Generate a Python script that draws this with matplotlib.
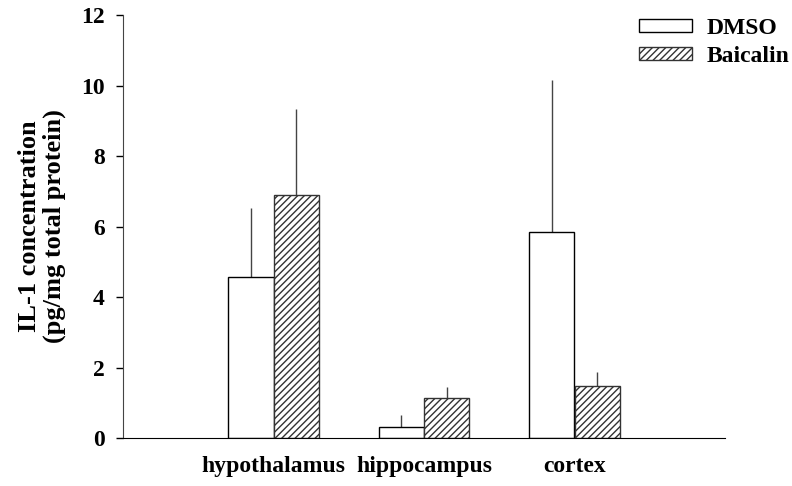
import matplotlib
matplotlib.use("Agg")
import matplotlib.pyplot as plt
import numpy as np

categories = ["hypothalamus", "hippocampus", "cortex"]
dmso_mean = [4.58, 0.32, 5.85]
dmso_err = [1.94, 0.33, 4.31]
baic_mean = [6.89, 1.13, 1.48]
baic_err = [2.44, 0.31, 0.40]
yticks = [0, 2, 4, 6, 8, 10, 12]

plt.rcParams['font.family'] = ['Liberation Serif', 'DejaVu Serif']
plt.rcParams['font.weight'] = 'bold'
plt.rcParams['hatch.linewidth'] = 1.0

fig = plt.figure(figsize=(7.92, 4.86), dpi=100)
ax = fig.add_axes([123/792, 1-438/486, (725-123)/792, (438-15)/486])

x = np.arange(len(categories))
w = 0.3
ax.bar(x - w/2, dmso_mean, w, color='white', edgecolor='black', linewidth=1.0, label='DMSO', zorder=2)
ax.bar(x + w/2, baic_mean, w, color='white', edgecolor='#333333', hatch='/////', linewidth=1.0, label='Baicalin', zorder=2)
ax.errorbar(x - w/2, dmso_mean, yerr=[np.zeros(3), dmso_err], fmt='none', ecolor='#444444', elinewidth=1.0, capsize=0, zorder=1)
ax.errorbar(x + w/2, baic_mean, yerr=[np.zeros(3), baic_err], fmt='none', ecolor='#444444', elinewidth=1.0, capsize=0, zorder=1)

ax.set_xlim(-1, 3)
ax.set_ylim(0, 12)
ax.set_yticks(yticks)
ax.set_yticklabels([str(v) for v in yticks], fontsize=17, fontweight='bold')
ax.set_xticks(x)
ax.set_xticklabels(categories, fontsize=17, fontweight='bold')
ax.tick_params(axis='x', length=0, pad=13)
ax.tick_params(axis='y', direction='out', length=5, width=1, pad=8)
for s in ['top', 'right']:
    ax.spines[s].set_visible(False)
ax.spines['left'].set_color('#444444')
ax.spines['bottom'].set_color('black')

ax.set_ylabel("IL-1 concentration\n(pg/mg total protein)", fontsize=19, fontweight='bold', labelpad=11, linespacing=1.1)

leg = fig.legend(loc='upper left', bbox_to_anchor=(639/792, 1-18/486), frameon=False,
                 fontsize=17, handlelength=2.25, handleheight=0.47, handletextpad=0.6,
                 labelspacing=0.28, borderpad=0, borderaxespad=0)
for t in leg.get_texts():
    t.set_fontweight('bold')

fig.savefig("out.png", dpi=100)
